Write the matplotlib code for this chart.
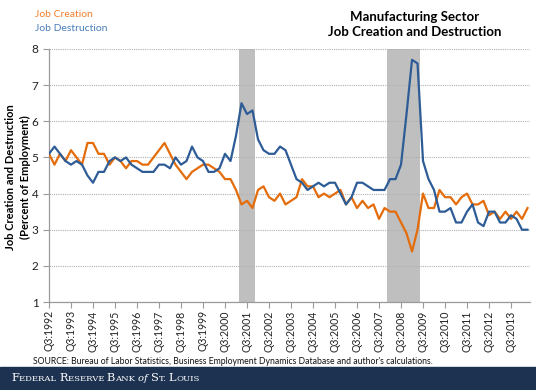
import matplotlib
matplotlib.use("Agg")
import matplotlib.pyplot as plt
from matplotlib.patches import Rectangle

plt.rcParams['font.family'] = ['Lato', 'DejaVu Sans']

# quarterly series, Q3:1992 .. Q2:2014
job_creation = [5.1, 4.8, 5.1, 4.9, 5.2, 5.0, 4.8, 5.4, 5.4, 5.1,
                5.1, 4.8, 5.0, 4.9, 4.7, 4.9, 4.9, 4.8, 4.8, 5.0,
                5.2, 5.4, 5.1, 4.8, 4.6, 4.4, 4.6, 4.7, 4.8, 4.8,
                4.7, 4.6, 4.4, 4.4, 4.1, 3.7, 3.8, 3.6, 4.1, 4.2,
                3.9, 3.8, 4.0, 3.7, 3.8, 3.9, 4.4, 4.2, 4.2, 3.9,
                4.0, 3.9, 4.0, 4.1, 3.7, 3.9, 3.6, 3.8, 3.6, 3.7,
                3.3, 3.6, 3.5, 3.5, 3.2, 2.9, 2.4, 3.0, 4.0, 3.6,
                3.6, 4.1, 3.9, 3.9, 3.7, 3.9, 4.0, 3.7, 3.7, 3.8,
                3.4, 3.5, 3.3, 3.5, 3.3, 3.5, 3.3, 3.6]
job_destruction = [5.1, 5.3, 5.1, 4.9, 4.8, 4.9, 4.8, 4.5, 4.3, 4.6,
                   4.6, 4.9, 5.0, 4.9, 5.0, 4.8, 4.7, 4.6, 4.6, 4.6,
                   4.8, 4.8, 4.7, 5.0, 4.8, 4.9, 5.3, 5.0, 4.9, 4.6,
                   4.6, 4.7, 5.1, 4.9, 5.6, 6.5, 6.2, 6.3, 5.5, 5.2,
                   5.1, 5.1, 5.3, 5.2, 4.8, 4.4, 4.3, 4.1, 4.2, 4.3,
                   4.2, 4.3, 4.3, 4.0, 3.7, 3.9, 4.3, 4.3, 4.2, 4.1,
                   4.1, 4.1, 4.4, 4.4, 4.8, 6.2, 7.7, 7.6, 4.9, 4.4,
                   4.1, 3.5, 3.5, 3.6, 3.2, 3.2, 3.5, 3.7, 3.2, 3.1,
                   3.5, 3.5, 3.2, 3.2, 3.4, 3.3, 3.0, 3.0]
tick_labels = ["Q3:%d" % y for y in range(1992, 2014)]
# recessions as (first quarter index, last quarter index)
recessions = [(35, 37), (62, 67)]

orange = "#E46C0A"
blue = "#2E5C97"

fig = plt.figure(figsize=(5.36, 3.9), dpi=100)
ax = fig.add_axes([0.0914, 0.2256, 0.8974, 0.6488])

x = list(range(len(job_creation)))
for a, b in recessions:
    ax.axvspan(a - 0.5, b + 0.5, color="#BFBFBF", lw=0, zorder=1)
ax.plot(x, job_creation, color=orange, lw=1.6, zorder=3)
ax.plot(x, job_destruction, color=blue, lw=1.6, zorder=3)

ax.set_xlim(0, 87.45)
ax.set_ylim(1, 8)
ax.set_yticks(range(1, 9))
ax.set_xticks(range(0, len(tick_labels) * 4, 4))
ax.set_xticklabels(tick_labels, rotation=90, fontsize=7.6, color="#222222")
ax.tick_params(axis="y", labelsize=8.5, colors="#222222", length=4, color="#9a9a9a")
ax.tick_params(axis="x", length=4, color="#9a9a9a", pad=2)
for lbl in ax.get_yticklabels():
    lbl.set_color("#222222")
ax.grid(axis="y", color="#b0b0b0", linestyle=(0, (1, 1)), lw=0.8, zorder=0)
for s in ["top", "right"]:
    ax.spines[s].set_visible(False)
for s in ["left", "bottom"]:
    ax.spines[s].set_color("#9a9a9a")
    ax.spines[s].set_linewidth(0.9)

fig.text(0.033, 0.5465, "Job Creation and Destruction\n(Percent of Employment)",
         rotation=90, ha="center", va="center", fontsize=8, fontweight="bold",
         linespacing=1.45)

fig.text(0.774, 0.938, "Manufacturing Sector\nJob Creation and Destruction",
         ha="center", va="center", fontsize=9.5, fontweight="bold", linespacing=1.3)
fig.text(0.066, 0.962, "Job Creation", color="#F07F2E", fontsize=7.5, va="center")
fig.text(0.066, 0.928, "Job Destruction", color="#4A7EBB", fontsize=7.5, va="center")

fig.text(0.062, 0.074, "SOURCE: Bureau of Labor Statistics, Business Employment Dynamics "
         "Database and author's calculations.", fontsize=6.2, va="center", color="#111111")

# footer band with small-caps bank name
fig.patches.append(Rectangle((0, 0), 1, 23 / 390, transform=fig.transFigure,
                             color="#1D3250", zorder=0))
pieces = [("F", 8.2), ("EDERAL ", 6.1), ("R", 8.2), ("ESERVE ", 6.1), ("B", 8.2),
          ("ANK ", 6.1), ("of ", 7.2), ("S", 8.2), ("T. ", 6.1), ("L", 8.2), ("OUIS", 6.1)]
renderer = fig.canvas.get_renderer()
xpos = 0.021
for txt, size in pieces:
    style = "italic" if txt.strip() == "of" else "normal"
    t = fig.text(xpos, 0.022, txt, color="white", fontsize=size,
                 family="DejaVu Serif", style=style, va="baseline")
    xpos += t.get_window_extent(renderer).width / fig.bbox.width

fig.savefig("out.png", dpi=100)
